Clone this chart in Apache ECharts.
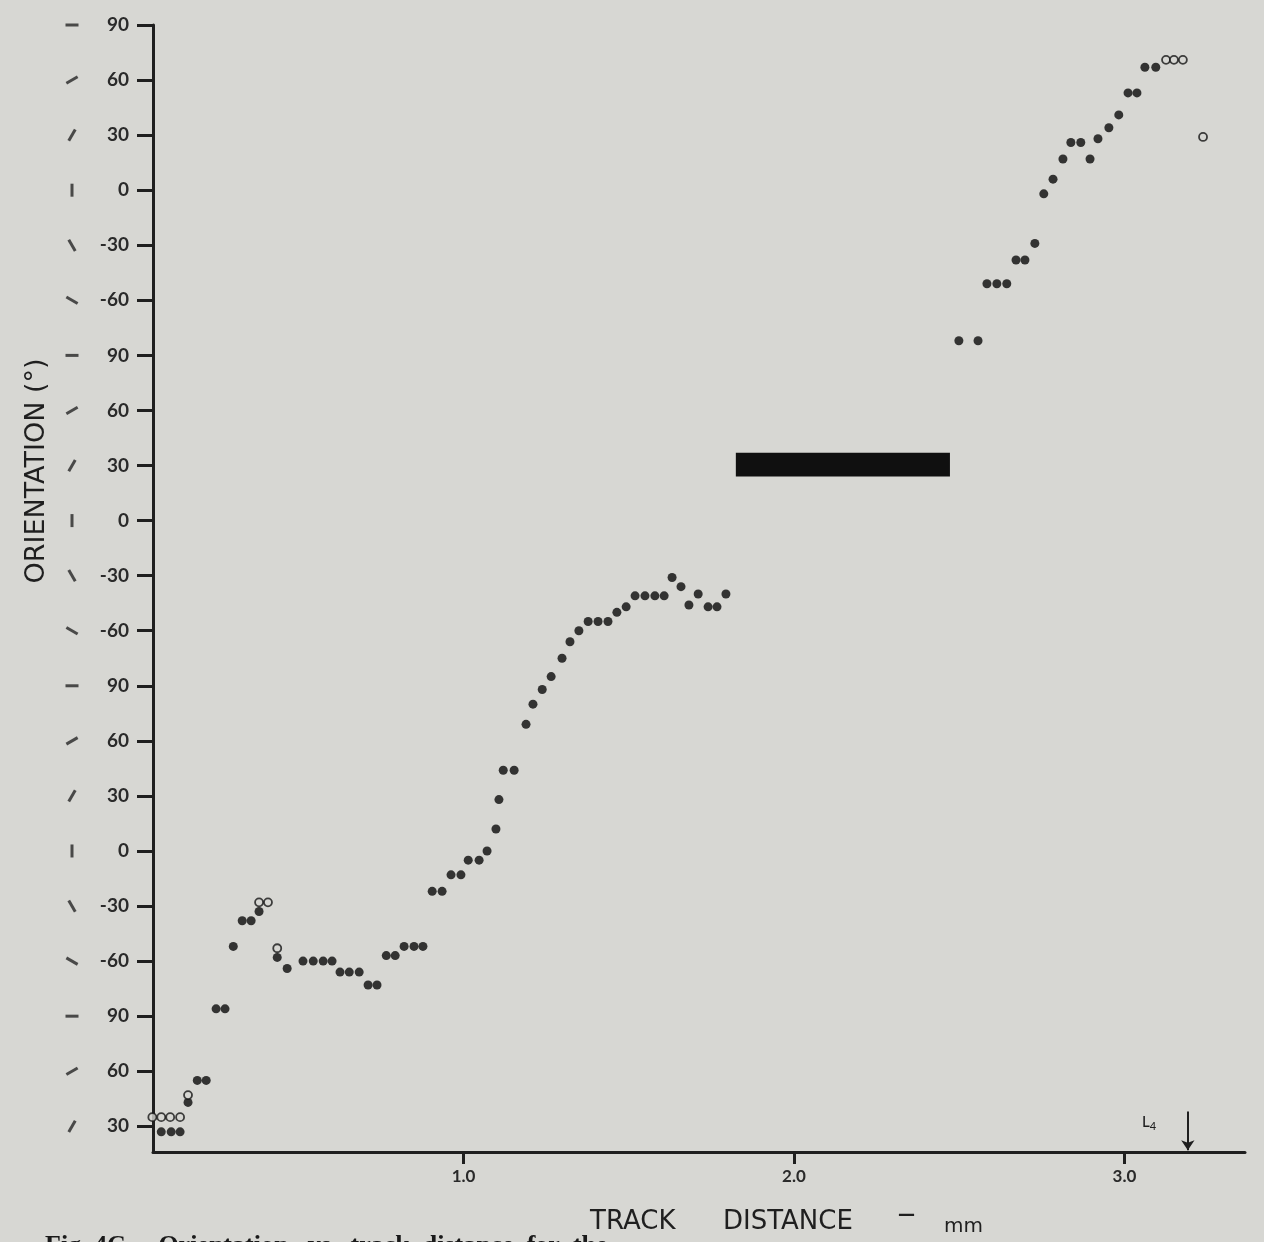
<!DOCTYPE html>
<html>
<head>
<meta charset="utf-8">
<title>Orientation vs track distance</title>
<script src="https://cdn.jsdelivr.net/npm/echarts@6/dist/echarts.min.js"></script>
<style>
  html, body { margin: 0; padding: 0; background: #d7d7d3; }
  #chart { width: 1264px; height: 1242px; }
</style>
</head>
<body>
<div id="chart"></div>
<script>
// track distance (mm) and unwrapped orientation (deg), filled dots
const filledX = [0.085, 0.115, 0.142, 0.166, 0.194, 0.221, 0.251, 0.278, 0.303, 0.330, 0.357, 0.381,
  0.436, 0.466, 0.514, 0.545, 0.575, 0.602, 0.626, 0.654, 0.684, 0.711, 0.738, 0.766, 0.793,
  0.820, 0.850, 0.877, 0.905, 0.935, 0.962, 0.992, 1.014, 1.047, 1.071, 1.098, 1.107, 1.120, 1.153,
  1.189, 1.210, 1.238, 1.265, 1.298, 1.322, 1.349, 1.377, 1.407, 1.437, 1.464, 1.492,
  1.519, 1.549, 1.579, 1.607, 1.631, 1.658, 1.682, 1.710, 1.740, 1.767, 1.794,
  2.499, 2.557, 2.584, 2.614, 2.644, 2.672, 2.699, 2.729, 2.756, 2.784, 2.814, 2.838, 2.868,
  2.896, 2.920, 2.953, 2.983, 3.011, 3.038, 3.062, 3.095];
const filledY = [27, 27, 27, 43, 55, 55, 94, 94, 128, 142, 142, 147,
  122, 116, 120, 120, 120, 120, 114, 114, 114, 107, 107, 123, 123,
  128, 128, 128, 158, 158, 167, 167, 175, 175, 180, 192, 208, 224, 224,
  249, 260, 268, 275, 285, 294, 300, 305, 305, 305, 310, 313,
  319, 319, 319, 319, 329, 324, 314, 320, 313, 313, 320,
  458, 458, 489, 489, 489, 502, 502, 511, 538, 546, 557, 566, 566,
  557, 568, 574, 581, 593, 593, 607, 607];

// open circles
const openX = [0.058, 0.085, 0.112, 0.142, 0.166, 0.381, 0.408, 0.436, 3.126, 3.150, 3.177, 3.238];
const openY = [35, 35, 35, 35, 47, 152, 152, 127, 611, 611, 611, 569];

// black bar and L4 arrow
const barX = [1.824, 2.472];
const barY = [384, 397];
const arrowX = 3.192;
const arrowY = [38, 17];

// ticks
const yTicks = [30, 60, 90, 120, 150, 180, 210, 240, 270, 300, 330, 360, 390, 420, 450, 480, 510, 540, 570, 600, 630];
const xTicks = [1, 2, 3];

const wrap = v => {
  let r = ((v + 90) % 180) - 90;
  return r === -90 ? 90 : r;
};

const zip = (xs, ys) => xs.map((x, i) => [x, ys[i]]);

const chart = echarts.init(document.getElementById('chart'));

const ink = '#1f1f1f';
const bg = '#d7d7d3';
const font = 'Lato';
const titleFont = '"DejaVu Sans"';

const option = {
  backgroundColor: bg,
  animation: false,
  grid: [
    { left: 153, right: 19, top: 25, bottom: 90 },
    { left: 60, width: 24, top: 25, bottom: 90 }
  ],
  xAxis: [
    {
      type: 'value',
      min: 0.06,
      max: 3.365,
      axisLine: { lineStyle: { color: ink, width: 3 } },
      axisTick: { customValues: xTicks, length: 12, lineStyle: { color: ink, width: 3 } },
      axisLabel: {
        customValues: xTicks,
        formatter: v => v.toFixed(1),
        color: '#2a2a2a', fontFamily: font, fontWeight: 'bold', fontSize: 17, margin: 16
      },
      splitLine: { show: false }
    },
    { type: 'value', gridIndex: 1, min: 0, max: 1, show: false }
  ],
  yAxis: [
    {
      type: 'value',
      min: 16,
      max: 630,
      axisLine: { show: true, lineStyle: { color: ink, width: 3 } },
      axisTick: { show: true, customValues: yTicks, length: 16, lineStyle: { color: ink, width: 3 } },
      axisLabel: {
        customValues: yTicks,
        formatter: v => String(wrap(v)),
        color: '#2a2a2a', fontFamily: font, fontWeight: 'bold', fontSize: 19, margin: 24
      },
      splitLine: { show: false }
    },
    { type: 'value', gridIndex: 1, min: 16, max: 630, show: false }
  ],
  series: [
    {
      // orientation glyphs next to the tick labels
      type: 'scatter',
      xAxisIndex: 1,
      yAxisIndex: 1,
      silent: true,
      symbol: 'rect',
      symbolSize: [3, 13],
      symbolRotate: (val) => -wrap(val[1]),
      itemStyle: { color: '#262626' },
      data: yTicks.map(v => [0.5, v])
    },
    {
      name: 'filled',
      type: 'scatter',
      symbol: 'circle',
      symbolSize: 9,
      clip: false,
      itemStyle: { color: '#0a0a0a' },
      data: zip(filledX, filledY),
      markArea: {
        silent: true,
        itemStyle: { color: '#101010', opacity: 1 },
        data: [[{ coord: [barX[0], barY[1]] }, { coord: [barX[1], barY[0]] }]]
      },
      markLine: {
        silent: true,
        symbol: ['none', 'arrow'],
        symbolSize: 10,
        label: { show: false },
        lineStyle: { color: ink, width: 2, type: 'solid' },
        data: [[{ coord: [arrowX, arrowY[0]] }, { coord: [arrowX, arrowY[1]] }]]
      }
    },
    {
      name: 'open',
      type: 'scatter',
      symbol: 'circle',
      symbolSize: 8,
      clip: false,
      itemStyle: { color: bg, borderColor: '#151515', borderWidth: 1.8 },
      data: zip(openX, openY)
    }
  ],
  graphic: [
    {
      type: 'text',
      x: 37, y: 471,
      rotation: Math.PI / 2,
      style: {
        text: 'ORIENTATION (°)',
        fill: ink, font: '27px ' + titleFont,
        align: 'center', verticalAlign: 'middle'
      }
    },
    {
      type: 'text', x: 590, y: 1222,
      style: { text: 'TRACK', fill: ink, font: '26px ' + titleFont, verticalAlign: 'middle' }
    },
    {
      type: 'text', x: 723, y: 1222,
      style: { text: 'DISTANCE', fill: ink, font: '26px ' + titleFont, verticalAlign: 'middle' }
    },
    {
      type: 'text', x: 898, y: 1216,
      style: { text: '—', fill: ink, font: 'bold 17px ' + titleFont, verticalAlign: 'middle' }
    },
    {
      type: 'text', x: 944, y: 1227,
      style: { text: 'mm', fill: ink, font: '20px ' + titleFont, verticalAlign: 'middle' }
    },
    {
      type: 'text', x: 1142, y: 1122,
      style: {
        text: '{a|L}{b|4}',
        verticalAlign: 'middle',
        rich: {
          a: { fill: ink, font: '500 15px Lato' },
          b: { fill: ink, font: '500 11px Lato', padding: [8, 0, 0, 0] }
        }
      }
    },
    {
      type: 'text', x: 45, y: 1233,
      style: {
        text: 'Fig. 4C.    Orientation   vs.  track  distance  for  the',
        fill: '#1a1a1a', font: 'bold 26px "Liberation Serif"',
        verticalAlign: 'top'
      }
    }
  ]
};

chart.setOption(option);

window.addEventListener('resize', () => chart.resize());
</script>
</body>
</html>
